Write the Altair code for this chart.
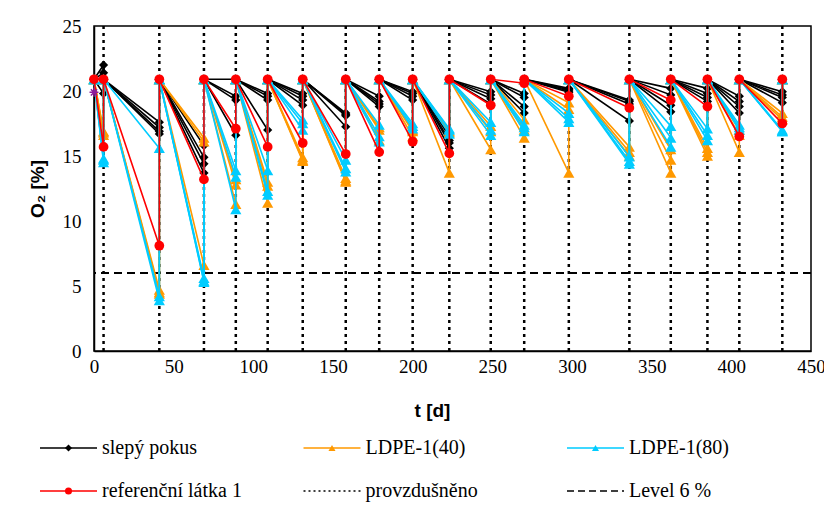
import altair as alt
import pandas as pd

# ---------------- data ----------------
times = [0, 6, 41, 69, 89, 109, 131, 158, 179, 200, 223, 249, 270, 298, 336, 362, 385, 405, 432]
aerated = 20.9          # O2 level after aeration
level_line = 6          # "Level 6 %"

# measured O2 [%] just before each aeration (times[1:])
black_1 = [22.0, 17.6, 15.8, 20.9, 19.8, 19.8, 18.3, 19.6, 19.95, 16.5, 19.95, 19.8, 20.2, 19.3, 20.2, 20.2, 19.6, 19.95]
black_2 = [21.4, 17.2, 14.9, 19.6, 19.3, 18.9, 18.1, 19.2, 19.6, 16.0, 19.4, 18.8, 19.9, 19.0, 18.9, 19.5, 18.8, 19.5]
black_3 = [19.8, 16.7, 13.7, 16.6, 17.0, 19.3, 17.25, 18.8, 19.3, 15.6, 19.0, 18.3, 20.0, 17.7, 18.4, 19.2, 18.3, 19.1]
black_4 = [20.9, 16.9, 14.4, 19.3, 19.6, 19.6, 18.2, 19.0, 19.8, 16.2, 19.7, 19.5, 20.1, 19.2, 19.7, 19.8, 19.2, 19.7]

orange_1 = [16.9, 4.7, 16.4, 12.8, 13.0, 14.9, 13.3, 17.0, 16.5, 13.7, 15.5, 16.4, 13.7, 15.7, 15.5, 15.6, 15.3, 18.3]
orange_2 = [16.6, 4.4, 6.6, 11.3, 11.4, 14.6, 13.0, 16.2, 16.9, 16.8, 16.9, 17.8, 19.1, 15.3, 14.7, 15.0, 16.6, 17.8]
orange_3 = [16.8, 4.5, 16.1, 13.2, 12.7, 14.7, 13.1, 17.2, 17.0, 16.9, 17.3, 17.0, 18.6, 15.0, 13.7, 15.3, 17.0, 18.0]

cyan_1 = [14.7, 15.6, 5.4, 13.9, 13.9, 17.8, 14.7, 17.4, 17.5, 17.1, 17.6, 17.4, 18.3, 14.95, 17.3, 17.1, 17.4, 16.9]
cyan_2 = [14.5, 4.2, 5.6, 13.4, 12.3, 17.0, 14.05, 16.1, 17.1, 16.7, 16.6, 16.9, 17.6, 14.6, 16.4, 16.6, 17.2, 16.9]
cyan_3 = [14.8, 3.9, 5.3, 10.9, 12.0, 17.5, 13.8, 16.5, 17.3, 17.0, 17.0, 17.2, 17.9, 14.4, 15.7, 16.2, 17.0, 17.0]

red_1 = [15.7, 8.1, 13.2, 17.1, 15.7, 16.0, 15.15, 15.3, 16.1, 15.2, 18.9, 20.6, 19.6, 18.7, 19.3, 18.8, 16.5, 17.5]

star_t = [0]
star_v = [19.9]

groups = ["slepý pokus", "LDPE-1(40)", "LDPE-1(80)", "referenční látka 1"]
series = [
    ("slepý pokus", "b1", black_1), ("slepý pokus", "b2", black_2),
    ("slepý pokus", "b3", black_3), ("slepý pokus", "b4", black_4),
    ("LDPE-1(40)", "o1", orange_1), ("LDPE-1(40)", "o2", orange_2), ("LDPE-1(40)", "o3", orange_3),
    ("LDPE-1(80)", "c1", cyan_1), ("LDPE-1(80)", "c2", cyan_2), ("LDPE-1(80)", "c3", cyan_3),
    ("referenční látka 1", "r1", red_1),
]

legend_labels = ["slepý pokus", "LDPE-1(40)", "LDPE-1(80)", "referenční látka 1", "provzdušněno", "Level 6 %"]
legend_cols = [0, 1, 2, 0, 1, 2]
legend_rows = [0, 0, 0, 1, 1, 1]

# ---------------- styles ----------------
colors = {"slepý pokus": "#000000", "LDPE-1(40)": "#FF9900", "LDPE-1(80)": "#00CCFF",
          "referenční látka 1": "#FF0000", "provzdušněno": "#000000", "Level 6 %": "#000000"}
shapes = {"slepý pokus": "diamond", "LDPE-1(40)": "triangle-up", "LDPE-1(80)": "triangle-up",
          "referenční látka 1": "circle"}
sizes = {"slepý pokus": 85, "LDPE-1(40)": 125, "LDPE-1(80)": 125, "referenční látka 1": 95}
dashes = {"slepý pokus": [1, 0], "LDPE-1(40)": [1, 0], "LDPE-1(80)": [1, 0],
          "referenční látka 1": [1, 0], "provzdušněno": [2, 3], "Level 6 %": [7, 4]}

SERIF = "Liberation Serif"
SANS = "Liberation Sans"

rows = []
for g, sid, vals in series:
    k = 0
    rows.append({"group": g, "series": sid, "order": k, "t": times[0], "o2": aerated})
    for t, v in zip(times[1:], vals):
        k += 1
        rows.append({"group": g, "series": sid, "order": k, "t": t, "o2": v})
        k += 1
        rows.append({"group": g, "series": sid, "order": k, "t": t, "o2": aerated})
df = pd.DataFrame(rows)

x_scale = alt.Scale(domain=[0, 450], nice=False)
y_scale = alt.Scale(domain=[0, 25], nice=False)

x_enc = alt.X("t:Q", scale=x_scale,
              axis=alt.Axis(title="t [d]", values=list(range(0, 451, 50)), grid=False, ticks=False,
                            labelFlush=False, labelOverlap=False,
                            labelFont=SERIF, labelFontSize=19, labelColor="#000", labelPadding=6,
                            titleFont=SANS, titleFontSize=19, titleFontWeight="bold", titleColor="#000",
                            titleX=338, titleY=59, titleBaseline="middle",
                            domainColor="#000", domainWidth=1.5))
y_enc = alt.Y("o2:Q", scale=y_scale,
              axis=alt.Axis(title="O₂ [%]", values=list(range(0, 26, 5)), grid=False, ticks=False,
                            labelFlush=False, labelOverlap=False,
                            labelFont=SERIF, labelFontSize=19, labelColor="#000", labelPadding=13,
                            titleFont=SANS, titleFontSize=19, titleFontWeight="bold", titleColor="#000",
                            titleX=-57, titleBaseline="middle",
                            domainColor="#000", domainWidth=1.5))

base = alt.Chart(df)

# aeration lines
air_df = pd.DataFrame({"t": times[1:]})
air_rules = alt.Chart(air_df).mark_rule(color="#000", strokeWidth=2.5, strokeDash=[3, 4]).encode(x=x_enc)

level_df = pd.DataFrame({"o2": [level_line]})
level_rule = alt.Chart(level_df).mark_rule(color="#000", strokeWidth=2, strokeDash=[8, 5]).encode(y=y_enc)

layers = [air_rules, level_rule]
for g in groups:
    sub = base.transform_filter(alt.datum.group == g)
    layers.append(sub.mark_line(color=colors[g], strokeWidth=1.6).encode(
        x=x_enc, y=y_enc, detail="series:N", order="order:Q"))
    layers.append(sub.mark_point(shape=shapes[g], filled=True, color=colors[g], size=sizes[g], opacity=1,
                                 strokeWidth=0).encode(x=x_enc, y=y_enc, detail="series:N"))

star_df = pd.DataFrame({"t": star_t, "o2": star_v})
star = alt.Chart(star_df).mark_point(
    shape="M-1,0L1,0M0,-1L0,1M-0.7,-0.7L0.7,0.7M-0.7,0.7L0.7,-0.7",
    filled=False, color="#8B1A9B", strokeWidth=1.5, size=80, opacity=1).encode(x=x_enc, y=y_enc)
layers.append(star)

main = alt.layer(*layers)

# ---------------- legend (drawn below the plot) ----------------
leg_df = pd.DataFrame({"group": legend_labels, "col": legend_cols, "row": legend_rows})
lx = alt.X("col:Q", scale=alt.Scale(domain=[0, 2], range=[-54, 473]), axis=None)
lx2 = alt.X2("col:Q")
ly = alt.Y("row:Q", scale=alt.Scale(domain=[0, 1], range=[422, 465]), axis=None)
lcolor = alt.Color("group:N", scale=alt.Scale(domain=legend_labels, range=[colors[k] for k in legend_labels]),
                   legend=None)
ldash = alt.StrokeDash("group:N", scale=alt.Scale(domain=legend_labels, range=[dashes[k] for k in legend_labels]),
                       legend=None)
lshape = alt.Shape("group:N", scale=alt.Scale(domain=groups, range=[shapes[k] for k in groups]), legend=None)

leg_base = alt.Chart(leg_df)
leg_lines = leg_base.mark_rule(strokeWidth=1.6, x2Offset=57).encode(x=lx, x2=lx2, y=ly, color=lcolor,
                                                                     strokeDash=ldash)
leg_points = leg_base.transform_filter(alt.FieldOneOfPredicate(field="group", oneOf=groups)).mark_point(
    filled=True, size=50, opacity=1, strokeWidth=0, xOffset=28.5).encode(x=lx, y=ly, color=lcolor, shape=lshape)
leg_text = leg_base.mark_text(align="left", baseline="middle", dx=62, font=SERIF, fontSize=20,
                              color="#000").encode(x=lx, y=ly, text="group:N")

legend = alt.layer(leg_lines, leg_points, leg_text)

chart = alt.layer(main, legend).resolve_scale(x="independent", y="independent").properties(
    width=717, height=325,
    padding={"left": 94, "top": 26, "right": 13, "bottom": 155},
    autosize=alt.AutoSizeParams(type="none"),
    background="white",
).configure_view(stroke="#000", strokeWidth=1.5).configure_axis(labelFont=SERIF)

chart.save("out.html", embed_options={"renderer": "svg", "actions": False})
